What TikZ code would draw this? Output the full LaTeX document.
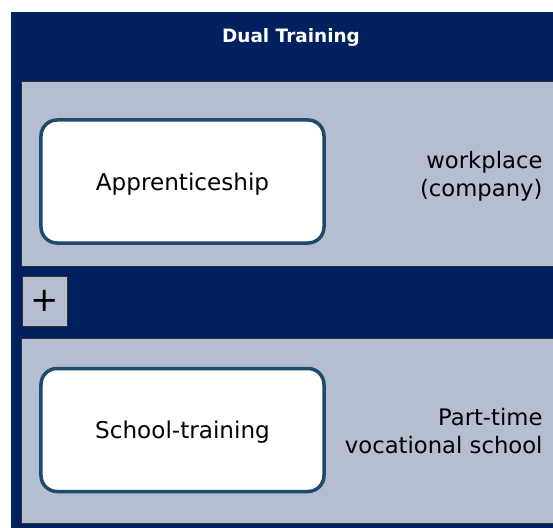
\documentclass[tikz,border=0pt]{standalone}
\usepackage{fontspec}
\setmainfont{DejaVu Sans}
\definecolor{navy}{HTML}{002060}
\definecolor{panelgray}{HTML}{B4BED0}
\definecolor{boxedge}{HTML}{1F4B6B}
\begin{document}
\begin{tikzpicture}[x=1bp,y=-1bp,
  panel/.style={fill=panelgray,draw=black!80,line width=0.8bp},
  rbox/.style={draw=boxedge,fill=white,line width=3.5bp,rounded corners=16bp,minimum width=283bp,minimum height=123bp,font=\fontsize{23.2}{27}\selectfont},
  sidetext/.style={align=right,anchor=east,font=\fontsize{22.8}{28}\selectfont}]
\useasboundingbox (0,0) rectangle (553,528);
\fill[white] (0,0) rectangle (553,528);
\fill[navy] (11,12) rectangle (553,528);
\node[text=white,font=\bfseries\fontsize{18.5}{20}\selectfont] (title) at (291,37.5) {Dual Training};
\path[panel] (21.5,81.5) rectangle (556,266);
\path[panel] (21.5,338.5) rectangle (556,523);
\node[panel,minimum width=45bp,minimum height=50bp,inner sep=0pt,font=\fontsize{34}{34}\selectfont] (plus) at (44.5,301) {+};
\node[rbox] (app) at (182.5,181.5) {};
\node (apptext) at (182.5,184) [font=\fontsize{23.2}{27}\selectfont] {Apprenticeship};
\node[rbox] (school) at (182.5,430) {};
\node (schooltext) at (182.5,432.5) [font=\fontsize{23.2}{27}\selectfont] {School-training};
\node[sidetext] (work) at (546,176) {workplace\\(company)};
\node[sidetext] (voc) at (546,431) {Part-time\\vocational school};
\end{tikzpicture}
\end{document}
